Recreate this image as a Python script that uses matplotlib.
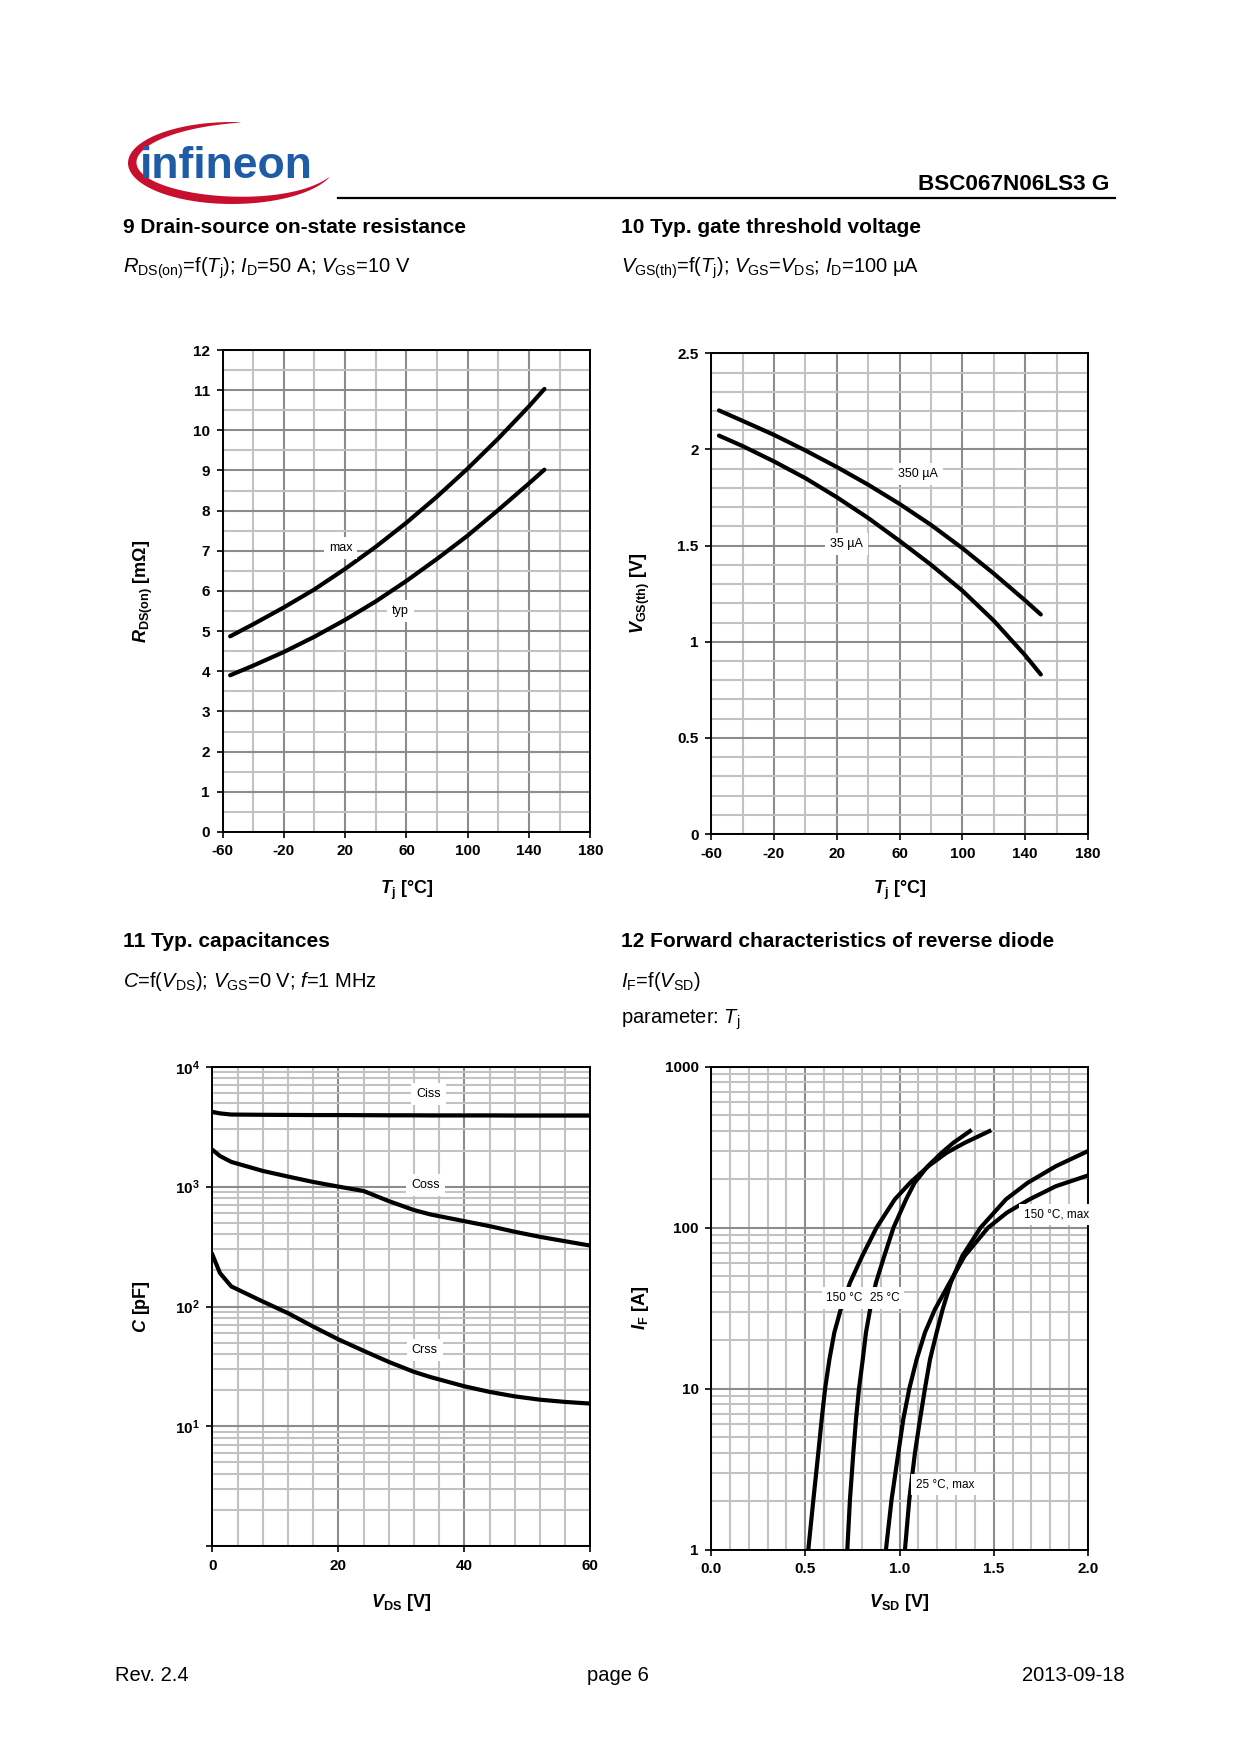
# -*- coding: utf-8 -*-

"""
Datasheet page 6 of BSC067N06LS3 G.
Diagrams 9 to 12 redrawn with matplotlib.
"""
import numpy as np
import matplotlib
matplotlib.use("Agg")
import matplotlib.pyplot as plt
from matplotlib.patches import Polygon
from matplotlib.ticker import LogLocator, NullFormatter

# 9 Drain-source on-state resistance
RDS_TEMP = [-55, -40, -20, 0, 20, 40, 60, 80, 100, 120, 140, 150]
RDS_MAX = [4.87, 5.17, 5.59, 6.04, 6.55, 7.10, 7.70, 8.35, 9.05, 9.80, 10.60, 11.03]
RDS_TYP = [3.90, 4.14, 4.48, 4.86, 5.28, 5.74, 6.25, 6.80, 7.38, 8.02, 8.68, 9.02]
RDS_X_TICKS = [-60, -20, 20, 60, 100, 140, 180]

# 10 Typ. gate threshold voltage
VTH_TEMP = [-55, -40, -20, 0, 20, 40, 60, 80, 100, 120, 140, 150]
VTH_350UA = [2.203, 2.149, 2.076, 1.995, 1.909, 1.817, 1.717, 1.608, 1.487, 1.355, 1.215, 1.142]
VTH_35UA = [2.072, 2.018, 1.938, 1.851, 1.752, 1.644, 1.525, 1.401, 1.266, 1.110, 0.930, 0.830]

# 11 Typ. capacitances
CAP_VDS = [0, 1.2, 3, 8, 12, 16, 20, 24, 28, 32, 34.6, 40, 44, 48, 52, 56, 60]
CISS = [4200, 4080, 3990, 3970, 3960, 3950, 3950, 3940, 3930, 3930, 3920, 3920, 3920,
        3910, 3910, 3910, 3910]
COSS = [2027, 1800, 1607, 1351, 1213, 1093, 1000, 919, 757, 637, 586, 515, 468, 420,
        381, 350, 322]
CRSS = [271, 190, 147, 110, 88, 68, 53.2, 42.7, 34.5, 28.5, 25.8, 21.6, 19.4, 17.8,
        16.7, 16.0, 15.5]
CAP_Y_TICKS = [1, 10, 100, 1000, 10000]
CAP_Y_LABELS = ["", r"$\mathbf{10^{1}}$", r"$\mathbf{10^{2}}$",
                r"$\mathbf{10^{3}}$", r"$\mathbf{10^{4}}$"]

# 12 Forward characteristics of reverse diode
DIODE_TYP_I = [1.0, 2.05, 4.0, 6.45, 10, 15.2, 22.3, 31.1, 45.5, 66.6, 100, 150,
               190, 241, 292, 337, 398]
DIODE_150C_V = [0.516, 0.543, 0.569, 0.587, 0.605, 0.628, 0.654, 0.688, 0.737, 0.802,
                0.878, 0.975, 1.056, 1.153, 1.250, 1.347, 1.477]
DIODE_25C_V = [0.723, 0.737, 0.755, 0.769, 0.785, 0.805, 0.822, 0.844, 0.875, 0.919,
               0.968, 1.035, 1.080, 1.150, 1.224, 1.286, 1.374]
DIODE_150C_MAX_I = [1.0, 2.05, 4.0, 6.45, 10, 15.2, 22.3, 31.1, 45.5, 66.6, 100, 124,
                    150, 181, 211]
DIODE_150C_MAX_V = [0.928, 0.958, 0.994, 1.020, 1.052, 1.091, 1.135, 1.188, 1.266,
                    1.345, 1.470, 1.570, 1.690, 1.830, 2.0]
DIODE_25C_MAX_I = [1.0, 2.05, 4.0, 6.45, 10, 15.2, 22.3, 31.1, 45.5, 66.6, 100, 150,
                   190, 241, 299]
DIODE_25C_MAX_V = [1.029, 1.052, 1.082, 1.109, 1.135, 1.162, 1.197, 1.229, 1.272,
                   1.333, 1.430, 1.565, 1.680, 1.830, 2.0]
DIODE_X_TICKS = [0.0, 0.5, 1.0, 1.5, 2.0]
DIODE_Y_TICKS = [1, 10, 100, 1000]

W, H = 1240, 1754
MAJOR_GRID = "#8c8c8c"
MINOR_GRID = "#c2c2c2"
LOGO_RED = "#c8102e"
LOGO_BLUE = "#1f5ca8"

plt.rcParams["font.family"] = ["Liberation Sans", "DejaVu Sans"]
plt.rcParams["axes.unicode_minus"] = False
plt.rcParams["mathtext.fontset"] = "custom"
plt.rcParams["mathtext.rm"] = "Liberation Sans"
plt.rcParams["mathtext.it"] = "Liberation Sans:italic"
plt.rcParams["mathtext.bf"] = "Liberation Sans:bold"
plt.rcParams["mathtext.bfit"] = "Liberation Sans:italic:bold"
plt.rcParams["mathtext.sf"] = "Liberation Sans"


def add_axes_px(fig, left, top, right, bottom):
    return fig.add_axes([left / W, 1 - bottom / H, (right - left) / W,
                         (bottom - top) / H])


def style_axes(ax, ylabel, xlabel, ylab_x, xlab_y):
    ax.grid(which="major", color=MAJOR_GRID, lw=1.5)
    ax.grid(which="minor", color=MINOR_GRID, lw=1.5)
    ax.set_axisbelow(True)
    for side in ax.spines.values():
        side.set_linewidth(1.4)
        side.set_zorder(4)
    ax.tick_params(which="major", direction="out", length=4, width=1.2,
                   labelsize=11, pad=5, top=False, right=False)
    ax.tick_params(which="minor", length=0)
    for lbl in ax.get_xticklabels() + ax.get_yticklabels():
        lbl.set_fontweight("bold")
    ax.set_ylabel(ylabel, fontsize=13, fontweight="bold")
    ax.set_xlabel(xlabel, fontsize=13, fontweight="bold")
    ax.yaxis.set_label_coords(ylab_x, 0.5)
    ax.yaxis.label.set_va("center")
    ax.xaxis.set_label_coords(0.5, xlab_y)
    ax.xaxis.label.set_va("center")


def curve_label(ax, x, y, text, size=9):
    ax.text(x, y, text, fontsize=size, ha="center", va="center", zorder=6,
            bbox=dict(boxstyle="square,pad=0.4", fc="white", ec="none"))


def draw_page(fig):
    page = fig.add_axes([0, 0, 1, 1])
    page.set_xlim(0, W)
    page.set_ylim(H, 0)
    page.axis("off")

    # logo: red swoosh and blue word mark
    theta = np.linspace(85, 340, 160)
    frac = (theta - 85) / 255
    thick = 9 * np.sin(np.pi * frac) ** 0.7
    rad = np.radians(theta)
    cx, cy, a, b = 232, 163, 104, 41
    outer = np.column_stack([cx + a * np.cos(rad), cy - b * np.sin(rad)])
    inner = np.column_stack([cx + (a - thick) * np.cos(rad),
                             cy - (b - thick) * np.sin(rad)])
    page.add_patch(Polygon(np.vstack([outer, inner[::-1]]), closed=True,
                           fc=LOGO_RED, ec="none"))
    page.text(140, 178, "infineon", fontsize=32, fontweight="bold",
              color=LOGO_BLUE, va="baseline", ha="left")

    page.text(1109, 190, "BSC067N06LS3 G", fontsize=16.2, fontweight="bold",
              ha="right", va="baseline")
    page.plot([338, 1115], [198, 198], color="black", lw=1.6)

    # diagram headings
    page.text(123, 233, "9 Drain-source on-state resistance", fontsize=15,
              fontweight="bold", va="baseline")
    page.text(123, 273,
              r"$\mathit{R}_{\mathrm{DS(on)}}$=f($\mathit{T}_{\mathrm{j}}$); "
              r"$\mathit{I}_{\mathrm{D}}$=50 A; $\mathit{V}_{\mathrm{GS}}$=10 V",
              fontsize=14.5, va="baseline")
    page.text(621, 233, "10 Typ. gate threshold voltage", fontsize=15,
              fontweight="bold", va="baseline")
    page.text(621, 273,
              r"$\mathit{V}_{\mathrm{GS(th)}}$=f($\mathit{T}_{\mathrm{j}}$); "
              r"$\mathit{V}_{\mathrm{GS}}$=$\mathit{V}_{\mathrm{DS}}$; "
              r"$\mathit{I}_{\mathrm{D}}$=100 µA",
              fontsize=14.5, va="baseline")
    page.text(123, 947, "11 Typ. capacitances", fontsize=15,
              fontweight="bold", va="baseline")
    page.text(123, 987,
              r"$\mathit{C}$=f($\mathit{V}_{\mathrm{DS}}$); "
              r"$\mathit{V}_{\mathrm{GS}}$=0 V; $\mathit{f}$=1 MHz",
              fontsize=14.5, va="baseline")
    page.text(621, 947, "12 Forward characteristics of reverse diode",
              fontsize=15, fontweight="bold", va="baseline")
    page.text(621, 987, r"$\mathit{I}_{\mathrm{F}}$=f($\mathit{V}_{\mathrm{SD}}$)",
              fontsize=14.5, va="baseline")
    page.text(621, 1024, r"parameter: $\mathit{T}_{\mathrm{j}}$",
              fontsize=14.5, va="baseline")

    # footer
    page.text(115, 1681, "Rev. 2.4", fontsize=14.5, va="baseline")
    page.text(618, 1681, "page 6", fontsize=14.5, va="baseline", ha="center")
    page.text(1125, 1681, "2013-09-18", fontsize=14.5, va="baseline", ha="right")


def plot_rds(fig):
    ax = add_axes_px(fig, 222.5, 350.0, 590.4, 831.9)
    ax.plot(RDS_TEMP, RDS_MAX, color="black", lw=3, zorder=3,
            solid_capstyle="round")
    ax.plot(RDS_TEMP, RDS_TYP, color="black", lw=3, zorder=3,
            solid_capstyle="round")
    ax.set_xlim(-60, 180)
    ax.set_ylim(0, 12)
    ax.set_xticks(RDS_X_TICKS)
    ax.set_xticks(np.arange(-60, 181, 20), minor=True)
    ax.set_yticks(np.arange(0, 13, 1))
    ax.set_yticks(np.arange(0, 12.01, 0.5), minor=True)
    curve_label(ax, 17, 7.08, "max")
    curve_label(ax, 56, 5.49, "typ")
    style_axes(ax, r"$\mathbfit{R}_{\mathbf{DS(on)}}$ [mΩ]",
               r"$\mathbfit{T}_{\mathbf{j}}$ [°C]", -0.215, -0.122)


def plot_vth(fig):
    ax = add_axes_px(fig, 711.1, 353.3, 1087.9, 834.1)
    ax.plot(VTH_TEMP, VTH_350UA, color="black", lw=3, zorder=3,
            solid_capstyle="round")
    ax.plot(VTH_TEMP, VTH_35UA, color="black", lw=3, zorder=3,
            solid_capstyle="round")
    ax.set_xlim(-60, 180)
    ax.set_ylim(0, 2.5)
    ax.set_xticks(RDS_X_TICKS)
    ax.set_xticks(np.arange(-60, 181, 20), minor=True)
    ax.set_yticks([0, 0.5, 1, 1.5, 2, 2.5], labels=["0", "0.5", "1", "1.5", "2", "2.5"])
    ax.set_yticks(np.arange(0, 2.501, 0.1), minor=True)
    curve_label(ax, 72, 1.87, "350 µA")
    curve_label(ax, 26, 1.506, "35 µA")
    style_axes(ax, r"$\mathbfit{V}_{\mathbf{GS(th)}}$ [V]",
               r"$\mathbfit{T}_{\mathbf{j}}$ [°C]", -0.187, -0.117)


def plot_cap(fig):
    ax = add_axes_px(fig, 212.4, 1066.7, 590.4, 1546.3)
    for series in (CISS, COSS, CRSS):
        ax.plot(CAP_VDS, series, color="black", lw=3, zorder=3)
    ax.set_yscale("log")
    ax.set_xlim(0, 60)
    ax.set_ylim(1, 10000)
    ax.set_xticks([0, 20, 40, 60])
    ax.set_xticks(np.arange(0, 61, 4), minor=True)
    ax.set_yticks(CAP_Y_TICKS, labels=CAP_Y_LABELS)
    ax.yaxis.set_minor_locator(LogLocator(base=10, subs=np.arange(2, 10)))
    ax.yaxis.set_minor_formatter(NullFormatter())
    curve_label(ax, 34.3, 5960, "Ciss")
    curve_label(ax, 33.8, 1025, "Coss")
    curve_label(ax, 33.7, 43.3, "Crss")
    style_axes(ax, r"$\mathbfit{C}$ [pF]", r"$\mathbfit{V}_{\mathbf{DS}}$ [V]",
               -0.187, -0.117)


def plot_diode(fig):
    ax = add_axes_px(fig, 711.1, 1066.7, 1087.9, 1549.7)
    ax.plot(DIODE_150C_V, DIODE_TYP_I, color="black", lw=3, zorder=3)
    ax.plot(DIODE_25C_V, DIODE_TYP_I, color="black", lw=3, zorder=3)
    ax.plot(DIODE_150C_MAX_V, DIODE_150C_MAX_I, color="black", lw=3, zorder=3)
    ax.plot(DIODE_25C_MAX_V, DIODE_25C_MAX_I, color="black", lw=3, zorder=3)
    ax.set_yscale("log")
    ax.set_xlim(0, 2)
    ax.set_ylim(1, 1000)
    ax.set_xticks(DIODE_X_TICKS, labels=["%.1f" % v for v in DIODE_X_TICKS])
    ax.set_xticks(np.arange(0, 2.001, 0.1), minor=True)
    ax.set_yticks(DIODE_Y_TICKS, labels=[str(v) for v in DIODE_Y_TICKS])
    ax.yaxis.set_minor_locator(LogLocator(base=10, subs=np.arange(2, 10)))
    ax.yaxis.set_minor_formatter(NullFormatter())
    curve_label(ax, 0.709, 36.7, "150 °C", size=8.5)
    curve_label(ax, 0.921, 36.7, "25 °C", size=8.5)
    curve_label(ax, 1.241, 2.55, "25 °C, max", size=8.5)
    curve_label(ax, 1.834, 121, "150 °C, max", size=8.5)
    style_axes(ax, r"$\mathbfit{I}_{\mathbf{F}}$ [A]",
               r"$\mathbfit{V}_{\mathbf{SD}}$ [V]", -0.187, -0.11)


fig = plt.figure(figsize=(W / 100, H / 100), dpi=100)
draw_page(fig)
plot_rds(fig)
plot_vth(fig)
plot_cap(fig)
plot_diode(fig)
fig.savefig("out.png", dpi=100)
